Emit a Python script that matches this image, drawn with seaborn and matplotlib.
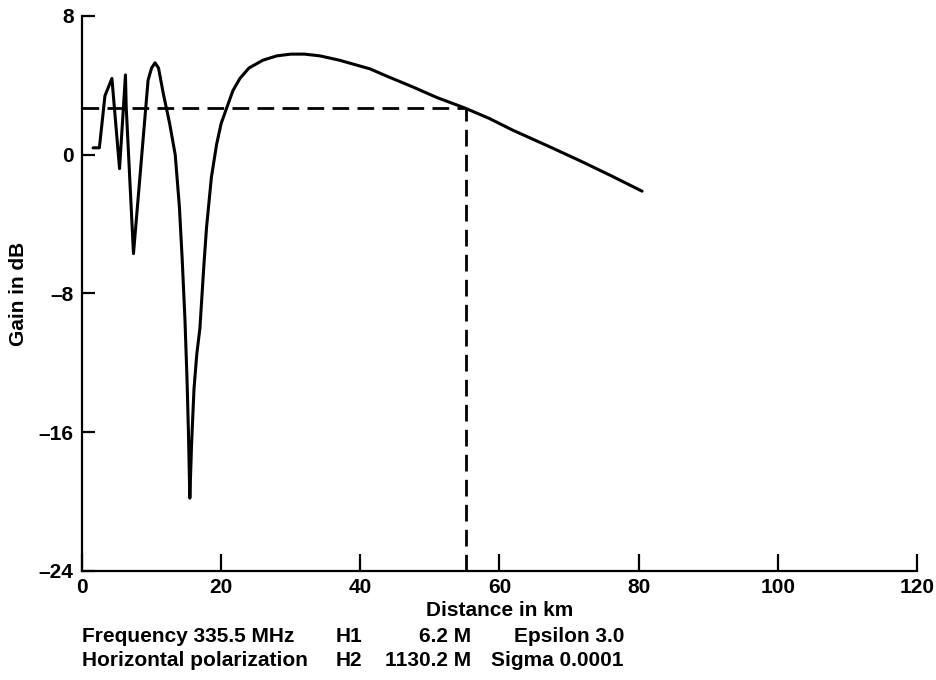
import matplotlib
matplotlib.use("Agg")
import matplotlib.pyplot as plt
import seaborn as sns
import pandas as pd

# Gain vs distance
distance_km = [1.6, 2.5, 3.3, 4.3, 5.4, 6.25, 6.35, 7.4, 9.5, 10.0, 10.5, 11.0,
               11.7, 12.6, 13.4, 14.0, 14.4, 14.8, 15.1, 15.3, 15.5, 15.75, 16.1,
               16.5, 16.95, 17.5, 17.9, 18.6, 19.35, 20.0, 20.8, 21.7, 22.7,
               24.0, 26.0, 28.0, 30.0, 32.0, 34.2, 37.0, 41.4, 44.0, 47.6,
               51.0, 55.0, 58.5, 62.0, 67.0, 71.6, 76.0, 80.5]
gain_db = [0.4, 0.4, 3.4, 4.4, -0.8, 4.6, 2.8, -5.7, 4.3, 5.0, 5.3, 5.0,
           3.5, 1.8, 0.0, -3.0, -6.0, -9.5, -13.0, -16.0, -19.8, -16.7, -13.5,
           -11.5, -10.0, -6.5, -4.2, -1.3, 0.6, 1.8, 2.7, 3.7, 4.4,
           5.0, 5.45, 5.7, 5.8, 5.8, 5.7, 5.45, 4.95, 4.5, 3.9,
           3.3, 2.7, 2.1, 1.4, 0.5, -0.35, -1.2, -2.1]

# dashed reference lines
ref_distance = 55.2
ref_gain = 2.7

x_ticks = [0, 20, 40, 60, 80, 100, 120]
y_ticks = [-24, -16, -8, 0, 8]

info_row1 = ["Frequency 335.5 MHz", "H1", "6.2 M", "Epsilon 3.0"]
info_row2 = ["Horizontal polarization", "H2", "1130.2 M", "Sigma 0.0001"]

df = pd.DataFrame({"Distance": distance_km, "Gain": gain_db})

sns.set_style("white")
plt.rcParams["font.family"] = ["Liberation Sans", "DejaVu Sans"]
plt.rcParams["font.weight"] = "bold"
for key in ["text.color", "axes.labelcolor", "xtick.color", "ytick.color"]:
    plt.rcParams[key] = "black"

fig = plt.figure(figsize=(9.37, 6.8), dpi=100)
ax = fig.add_axes([0.0875, 0.1603, 0.891, 0.8162])

sns.lineplot(data=df, x="Distance", y="Gain", sort=False, estimator=None,
             color="black", linewidth=2.2, ax=ax)

ax.hlines(ref_gain, 0, ref_distance, colors="black", linewidth=2,
          linestyles=(0, (6, 3)))
ax.vlines(ref_distance, -24, ref_gain, colors="black", linewidth=2,
          linestyles=(0, (6, 3)))

ax.set_xlim(0, 120)
ax.set_ylim(-24, 8)
ax.set_xticks(x_ticks)
ax.set_yticks(y_ticks)
ax.set_yticklabels(["\u201324", "\u201316", "\u20138", "0", "8"])

for s in ["top", "right"]:
    ax.spines[s].set_visible(False)
for s in ["left", "bottom"]:
    ax.spines[s].set_linewidth(1.6)
    ax.spines[s].set_color("black")

ax.tick_params(axis="y", direction="in", length=9, width=1.6, pad=6,
               labelsize=15, left=True, colors="black")
ax.tick_params(axis="x", direction="in", length=12, width=1.6, pad=5,
               labelsize=15, bottom=True, colors="black")

ax.set_xlabel("Distance in km", fontsize=15, fontweight="bold", labelpad=3,
              color="black")
ax.set_ylabel("Gain in dB", fontsize=15, fontweight="bold", labelpad=8,
              color="black")

# parameter block under the axis
rows_y = [636, 661]
for row, ypx in zip([info_row1, info_row2], rows_y):
    yf = 1 - ypx / 680
    fig.text(82 / 937, yf, row[0], ha="left", va="center", fontsize=15, fontweight="bold")
    fig.text(336 / 937, yf, row[1], ha="left", va="center", fontsize=15, fontweight="bold")
    fig.text(471 / 937, yf, row[2], ha="right", va="center", fontsize=15, fontweight="bold")
    fig.text(624 / 937, yf, row[3], ha="right", va="center", fontsize=15, fontweight="bold")

fig.savefig("out.png", dpi=100)
